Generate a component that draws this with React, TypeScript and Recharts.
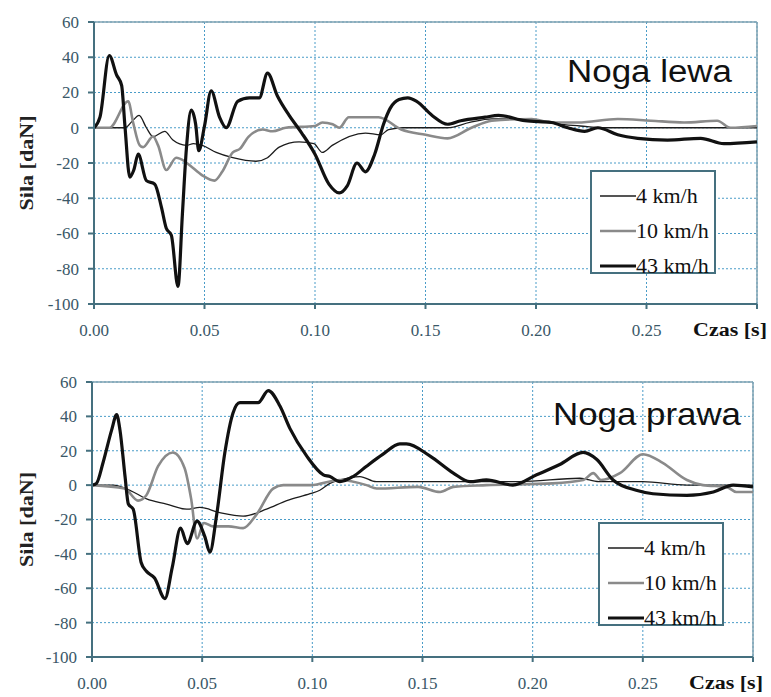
import React from 'react'
import {
  LineChart,
  Line,
  XAxis,
  YAxis,
  CartesianGrid,
  ReferenceLine,
  Legend,
} from 'recharts'

// time [s], force [daN]
type Pt = [number, number]

const LEFT_4: Pt[] = [
  [0, 0], [0.014, 0], [0.0175, 4], [0.0204, 7], [0.0237, 0], [0.0267, -5], [0.032, -2],
  [0.0357, -7], [0.0418, -10], [0.045, -9], [0.049, -10], [0.0553, -14], [0.0628, -17],
  [0.0733, -19], [0.0785, -17], [0.0838, -11], [0.0928, -8], [0.0995, -9], [0.1033, -14],
  [0.1078, -10], [0.1228, -3], [0.1297, -4], [0.1333, -1], [0.14, 0], [0.16, 0], [0.17, 3],
  [0.18, 5], [0.19, 5], [0.2, 4], [0.21, 2], [0.22, 1], [0.23, 0], [0.26, 0], [0.28, 0], [0.3, 0],
]

const LEFT_10: Pt[] = [
  [0, 0], [0.007, 0], [0.0155, 15], [0.0177, 3], [0.0207, -10], [0.0222, -11], [0.0267, -5],
  [0.029, -10], [0.0327, -24], [0.0372, -17], [0.041, -19], [0.044, -22], [0.049, -27],
  [0.0545, -30], [0.058, -25], [0.0628, -14], [0.066, -12], [0.07, -5], [0.0763, -1],
  [0.0808, -2], [0.0868, 0], [0.1, 1], [0.1033, 3], [0.108, 2], [0.111, 0], [0.1153, 6],
  [0.1288, 6], [0.139, -1], [0.15, -4], [0.16, -6], [0.1708, 0], [0.18, 4], [0.198, 5],
  [0.207, 3], [0.219, 3], [0.237, 5], [0.252, 4], [0.267, 3], [0.282, 4], [0.288, 0], [0.3, 1],
]

const LEFT_43: Pt[] = [
  [0, 0], [0.0027, 6], [0.0069, 41], [0.0102, 30], [0.0125, 24], [0.014, 1], [0.0162, -28],
  [0.018, -24], [0.02, -15], [0.0237, -30], [0.0275, -32], [0.0305, -45], [0.0327, -57],
  [0.035, -61], [0.038, -90], [0.04, -49], [0.0418, -12], [0.044, 10], [0.046, 2],
  [0.0474, -13], [0.05, 1], [0.053, 21], [0.0568, 6], [0.0598, 0], [0.065, 15], [0.0703, 17],
  [0.0748, 17], [0.0785, 31], [0.083, 18], [0.0883, 7], [0.094, -3], [0.1, -15], [0.1063, -32],
  [0.111, -37], [0.1146, -33], [0.119, -20], [0.1228, -25], [0.127, -15], [0.131, 2],
  [0.134, 11], [0.138, 16], [0.142, 17], [0.146, 15], [0.153, 7], [0.16, 2], [0.166, 4],
  [0.177, 6], [0.183, 7], [0.195, 4], [0.207, 3], [0.2144, 0], [0.222, -2], [0.228, 0],
  [0.237, -4], [0.246, -6], [0.2595, -7], [0.2745, -6], [0.285, -9], [0.3, -8],
]

const RIGHT_4: Pt[] = [
  [0, 0], [0.0095, 0], [0.0172, -3], [0.0248, -8], [0.0338, -11], [0.043, -14], [0.049, -13],
  [0.058, -16], [0.0686, -18], [0.0792, -14], [0.0884, -9], [0.099, -5], [0.1034, -3],
  [0.108, 1], [0.1125, 3], [0.1216, 5], [0.129, 2], [0.14, 2], [0.16, 2], [0.18, 2],
  [0.194, 2], [0.2214, 4], [0.23, 2], [0.25, 2], [0.27, 0], [0.3, 0],
]

const RIGHT_10: Pt[] = [
  [0, 0], [0.0148, -2], [0.0209, -9], [0.0246, -6], [0.03, 11], [0.0367, 19], [0.042, 10],
  [0.045, -8], [0.0477, -31], [0.0508, -22], [0.055, -24], [0.062, -24], [0.0686, -25],
  [0.0747, -17], [0.0822, -2], [0.0868, 0], [0.0993, 0], [0.1125, 3], [0.1246, 0],
  [0.1292, -2], [0.148, -1], [0.158, -4], [0.164, -1], [0.179, 0], [0.209, 1], [0.223, 3],
  [0.2275, 7], [0.231, 3], [0.2396, 7], [0.2501, 18], [0.259, 13], [0.27, 3], [0.2773, 0],
  [0.288, -1], [0.2924, -4], [0.3, -4],
]

const RIGHT_43: Pt[] = [
  [0, 0], [0.002, 1], [0.005, 13], [0.0089, 32], [0.0112, 41], [0.0127, 32], [0.015, 5],
  [0.0165, -11], [0.0187, -14], [0.0223, -45], [0.0246, -50], [0.0284, -54], [0.0331, -66],
  [0.0364, -48], [0.0402, -25], [0.0432, -34], [0.0477, -21], [0.0512, -30], [0.0535, -39],
  [0.0565, -18], [0.0603, 19], [0.064, 42], [0.0671, 48], [0.0754, 48], [0.08, 55],
  [0.0853, 46], [0.0898, 33], [0.0974, 17], [0.105, 6], [0.108, 5], [0.1125, 2], [0.1185, 5],
  [0.1246, 11], [0.1321, 18], [0.1397, 24], [0.1427, 24], [0.1533, 17], [0.164, 7],
  [0.1715, 2], [0.179, 3], [0.191, 0], [0.2018, 6], [0.2123, 12], [0.2229, 19], [0.229, 15],
  [0.2365, 3], [0.247, -3], [0.2546, -5], [0.27, -6], [0.282, -4], [0.291, 0], [0.3, -1],
]

const SPEEDS = ['4 km/h', '10 km/h', '43 km/h']
const TIME_TICKS = [0, 0.05, 0.1, 0.15, 0.2, 0.25, 0.3]
const FORCE_TICKS = [-100, -80, -60, -40, -20, 0, 20, 40, 60]

const SERIF = 'Liberation Serif, DejaVu Serif, serif'
const SANS = 'Liberation Sans, Arial, sans-serif'
const AXIS = '#45707f'
const FRAME = '#7fa2b2'
const GRID = '#4a9cc8'
const TICK_TEXT = '#3a5868'

const STYLES = [
  { color: '#1c1c1c', width: 1.3 },
  { color: '#8a8a8a', width: 2.6 },
  { color: '#111111', width: 3.2 },
]

const toPts = (arr: Pt[]) => arr.map(([t, v]) => ({ t, v }))

function TimeTick(props: any) {
  const { x, y, payload } = props
  if (payload.value > 0.299) {
    return (
      <text x={x + 10} y={y + 25} textAnchor="end" style={{ fontFamily: SERIF }} fontWeight="bold"
        fontSize={18} fill="#111" textLength={74} lengthAdjust="spacingAndGlyphs">
        Czas [s]
      </text>
    )
  }
  return (
    <text x={x} y={y + 25} textAnchor="middle" style={{ fontFamily: SERIF }} fontSize={17} fill={TICK_TEXT}>
      {payload.value.toFixed(2)}
    </text>
  )
}

function ForceTick(props: any) {
  const { x, y, payload } = props
  return (
    <text x={x} y={y} dy="0.35em" textAnchor="end" style={{ fontFamily: SERIF }} fontSize={17} fill={TICK_TEXT}>
      {payload.value}
    </text>
  )
}

function ForceLabel(props: any) {
  const vb = props.viewBox || { x: 0, y: 0, height: 0 }
  const cx = 26
  const cy = vb.y + vb.height / 2
  return (
    <text x={cx} y={cy} transform={`rotate(-90, ${cx}, ${cy})`} textAnchor="middle"
      dominantBaseline="central" style={{ fontFamily: SERIF }} fontWeight="bold" fontSize={19}
      fill="#222" textLength={95} lengthAdjust="spacingAndGlyphs">
      Sila [daN]
    </text>
  )
}

function LegendBox(props: any) {
  const { payload = [] } = props
  const items = [...payload].sort(
    (a: any, b: any) => SPEEDS.indexOf(a.value) - SPEEDS.indexOf(b.value),
  )
  return (
    <div style={{ width: 126, height: 104, border: `2px solid ${AXIS}`, background: '#fff',
      padding: '6px 0 0 8px', boxSizing: 'border-box' }}>
      {items.map((entry: any) => {
        const st = STYLES[SPEEDS.indexOf(entry.value)]
        return (
          <div key={entry.value} style={{ display: 'flex', alignItems: 'center', height: 35 }}>
            <svg width={36} height={10}>
              <line x1={0} y1={5} x2={36} y2={5} stroke={st.color} strokeWidth={st.width} />
            </svg>
            <span style={{ fontFamily: SERIF, fontSize: 22, color: '#111', lineHeight: 1 }}>
              {entry.value}
            </span>
          </div>
        )
      })}
    </div>
  )
}

interface PanelProps {
  top: number
  height: number
  plotTop: number
  plotHeight: number
  rightGap: number
  axisWidth: number
  title: string
  titleX: number
  titleY: number
  titleLen: number
  titleSize: number
  legendLeft: number
  legendTop: number
  series: Pt[][]
}

function Panel(p: PanelProps) {
  return (
    <div style={{ position: 'absolute', left: 0, top: p.top, width: 771, height: p.height }}>
      <LineChart width={771} height={p.height}
        margin={{ top: p.plotTop, right: p.rightGap, left: 0, bottom: 0 }}>
        <CartesianGrid stroke={GRID} strokeDasharray="2 2" strokeWidth={1} />
        <XAxis dataKey="t" type="number" domain={[0, 0.3]} ticks={TIME_TICKS}
          allowDataOverflow height={p.height - p.plotTop - p.plotHeight}
          stroke={AXIS} strokeWidth={2} tickSize={5} tickMargin={2}
          tick={<TimeTick />} interval={0} />
        <YAxis type="number" domain={[-100, 60]} ticks={FORCE_TICKS} width={p.axisWidth}
          stroke={AXIS} strokeWidth={2} tickSize={6} tickMargin={9} interval={0}
          tick={<ForceTick />} label={<ForceLabel />} />
        <ReferenceLine y={60} stroke={FRAME} strokeWidth={1.5} />
        <ReferenceLine x={0.3} stroke={FRAME} strokeWidth={1.5} />
        <Legend layout="vertical" align="center" verticalAlign="middle"
          wrapperStyle={{ left: p.legendLeft, top: p.legendTop, width: 'auto' }}
          content={<LegendBox />} />
        {p.series.map((s, i) => (
          <Line key={SPEEDS[i]} data={toPts(s)} dataKey="v" name={SPEEDS[i]} type="monotone"
            stroke={STYLES[i].color} strokeWidth={STYLES[i].width} dot={false}
            isAnimationActive={false} />
        ))}
        <text x={p.titleX} y={p.titleY} style={{ fontFamily: SANS }} fontSize={p.titleSize} fill="#111"
          textLength={p.titleLen} lengthAdjust="spacingAndGlyphs">
          {p.title}
        </text>
      </LineChart>
    </div>
  )
}

export default function App() {
  return (
    <div style={{ position: 'absolute', left: 0, top: 0, width: 771, height: 697, background: '#fff' }}>
      <Panel top={0} height={345} plotTop={22} plotHeight={282} rightGap={14} axisWidth={94}
        title="Noga lewa" titleX={567} titleY={82} titleLen={165} titleSize={31}
        legendLeft={590} legendTop={170} series={[LEFT_4, LEFT_10, LEFT_43]} />
      <Panel top={345} height={352} plotTop={37} plotHeight={275} rightGap={18} axisWidth={92}
        title="Noga prawa" titleX={553} titleY={80} titleLen={188} titleSize={32}
        legendLeft={598} legendTop={177} series={[RIGHT_4, RIGHT_10, RIGHT_43]} />
    </div>
  )
}
